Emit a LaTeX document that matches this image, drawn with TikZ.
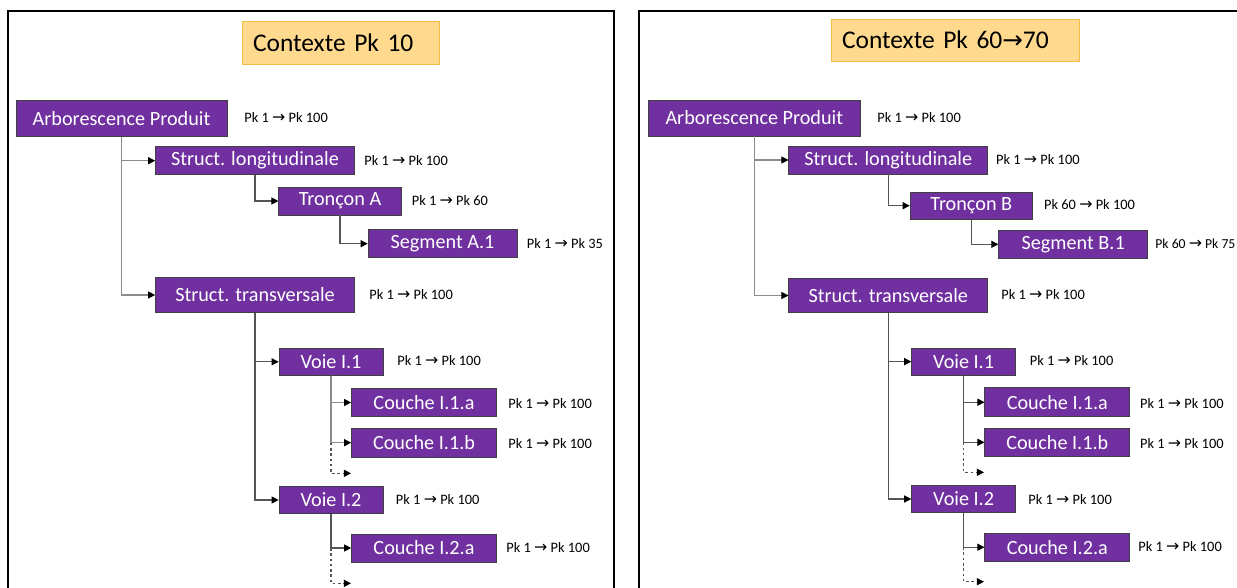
\documentclass[tikz,border=0pt]{standalone}
\usepackage{fontspec}
\setmainfont{Carlito}
\newfontfamily\arrowfont{DejaVu Sans}
\usetikzlibrary{arrows.meta}

\definecolor{prodpurple}{HTML}{7030A0}
\definecolor{boxedge}{HTML}{404040}
\definecolor{titlefill}{HTML}{FFD98E}
\definecolor{titleedge}{HTML}{F5BC45}
\definecolor{linkgray}{HTML}{555555}
\definecolor{lightgray}{HTML}{8C8C8C}

\newcommand{\pkto}{{\arrowfont\fontsize{9}{10}\selectfont →}}

\begin{document}
\begin{tikzpicture}[
  x=0.02cm, y=-0.02cm,
  % Context title
  ctxtitle/.style={rectangle, draw=titleedge, fill=titlefill, inner xsep=0.22cm, align=left, minimum height=0.85cm, font=\fontsize{14.5}{16}\selectfont},
  % Tree elements
  elem/.style={rectangle, draw=boxedge, fill=prodpurple, text=white, inner sep=0pt, font=\fontsize{11.5}{13}\selectfont},
  % Pk range labels
  pkrange/.style={anchor=west, inner sep=0pt, font=\fontsize{8.2}{10}\selectfont},
  % Connectors
  link/.style={draw=linkgray, line width=0.6pt, -{Triangle[length=4pt, width=4pt, color=black]}},
  lightlink/.style={link, draw=lightgray},
  morelink/.style={link, dash pattern=on 1.5pt off 1.5pt},
  panelframe/.style={draw=black, line width=1.2pt}
]

\useasboundingbox (0,0) rectangle (1237,588);

% === FRAMES ===
\draw[panelframe] (8,10.7) rectangle (614,620);
\draw[panelframe] (639,10.7) rectangle (1270,620);

% === LEFT: Contexte Pk 10 ===
\node[ctxtitle, text width=3.5cm] (ctxL) at (340.5,42.8) {Contexte Pk 10};

\node[elem, minimum width=4.22cm, minimum height=0.71cm] (arbL) at (121.5,118.5) {Arborescence Produit};
\node[pkrange] (arbLr) at (244,118) {Pk 1 \pkto{} Pk 100};

\node[elem, minimum width=3.98cm, minimum height=0.56cm] (slL) at (255,160.7) {Struct. longitudinale};
\node[pkrange] (slLr) at (364,160.5) {Pk 1 \pkto{} Pk 100};

\node[elem, minimum width=2.45cm, minimum height=0.56cm] (trA) at (340,201) {Tronçon A};
\node[pkrange] (trAr) at (411.5,201) {Pk 1 \pkto{} Pk 60};

\node[elem, minimum width=2.98cm, minimum height=0.56cm] (segA) at (442.5,243.7) {Segment A.1};
\node[pkrange] (segAr) at (526.5,244) {Pk 1 \pkto{} Pk 35};

\node[elem, minimum width=3.98cm, minimum height=0.7cm] (stL) at (255,295) {Struct. transversale};
\node[pkrange] (stLr) at (369,295) {Pk 1 \pkto{} Pk 100};

\node[elem, minimum width=2.08cm, minimum height=0.54cm] (v11L) at (331,361.8) {Voie I.1};
\node[pkrange] (v11Lr) at (397,361) {Pk 1 \pkto{} Pk 100};

\node[elem, minimum width=2.9cm, minimum height=0.56cm] (c11aL) at (424,402.5) {Couche I.1.a};
\node[pkrange] (c11aLr) at (508,404) {Pk 1 \pkto{} Pk 100};

\node[elem, minimum width=2.9cm, minimum height=0.57cm] (c11bL) at (424,442.7) {Couche I.1.b};
\node[pkrange] (c11bLr) at (508,444) {Pk 1 \pkto{} Pk 100};

\node[elem, minimum width=2.08cm, minimum height=0.54cm] (v12L) at (331,500) {Voie I.2};
\node[pkrange] (v12Lr) at (395.6,500) {Pk 1 \pkto{} Pk 100};

\node[elem, minimum width=2.9cm, minimum height=0.56cm] (c12aL) at (424,548) {Couche I.2.a};
\node[pkrange] (c12aLr) at (506,548) {Pk 1 \pkto{} Pk 100};

\coordinate (more11L) at (351,473.3);
\coordinate (more12L) at (351,583.3);

% Edges
\draw[lightlink] (arbL.south) |- (slL.west);
\draw[lightlink] (arbL.south) |- (stL.west);
\draw[link] (slL.south) |- (trA.west);
\draw[link] (trA.south) |- (segA.west);
\draw[link] (stL.south) |- (v11L.west);
\draw[link] (stL.south) |- (v12L.west);
\draw[lightlink] (v11L.south) |- (c11aL.west);
\draw[lightlink] (v11L.south) |- (c11bL.west);
\draw[morelink] (v11L.south |- c11bL.west) |- (more11L);
\draw[link] (v12L.south) |- (c12aL.west);
\draw[morelink] (v12L.south |- c12aL.west) |- (more12L);

% === RIGHT: Contexte Pk 60->70 ===
\node[ctxtitle, text width=4.52cm] (ctxR) at (955,40.2) {Contexte Pk 60{\arrowfont\fontsize{14}{15}\selectfont →}70};

\node[elem, minimum width=4.23cm, minimum height=0.72cm] (arbR) at (754.3,118) {Arborescence Produit};
\node[pkrange] (arbRr) at (877,118) {Pk 1 \pkto{} Pk 100};

\node[elem, minimum width=3.98cm, minimum height=0.56cm] (slR) at (888.3,160) {Struct. longitudinale};
\node[pkrange] (slRr) at (995.8,160) {Pk 1 \pkto{} Pk 100};

\node[elem, minimum width=2.45cm, minimum height=0.55cm] (trB) at (971.3,205.7) {Tronçon B};
\node[pkrange] (trBr) at (1043.8,205) {Pk 60 \pkto{} Pk 100};

\node[elem, minimum width=2.98cm, minimum height=0.56cm] (segB) at (1073.2,244.3) {Segment B.1};
\node[pkrange, font=\fontsize{7.8}{10}\selectfont] (segBr) at (1155,243.5) {Pk 60 \pkto{} Pk 75};

\node[elem, minimum width=3.98cm, minimum height=0.69cm] (stR) at (888.3,295.5) {Struct. transversale};
\node[pkrange] (stRr) at (1001,295) {Pk 1 \pkto{} Pk 100};

\node[elem, minimum width=2.08cm, minimum height=0.55cm] (v11R) at (963.6,361.6) {Voie I.1};
\node[pkrange] (v11Rr) at (1029.5,361) {Pk 1 \pkto{} Pk 100};

\node[elem, minimum width=2.9cm, minimum height=0.58cm] (c11aR) at (1057.3,402.2) {Couche I.1.a};
\node[pkrange] (c11aRr) at (1139.8,404) {Pk 1 \pkto{} Pk 100};

\node[elem, minimum width=2.9cm, minimum height=0.56cm] (c11bR) at (1057.3,442.3) {Couche I.1.b};
\node[pkrange] (c11bRr) at (1139.8,443.3) {Pk 1 \pkto{} Pk 100};

\node[elem, minimum width=2.08cm, minimum height=0.55cm] (v12R) at (963.6,499) {Voie I.2};
\node[pkrange] (v12Rr) at (1028,499.3) {Pk 1 \pkto{} Pk 100};

\node[elem, minimum width=2.9cm, minimum height=0.57cm] (c12aR) at (1057.3,547.2) {Couche I.2.a};
\node[pkrange] (c12aRr) at (1138,547) {Pk 1 \pkto{} Pk 100};

\coordinate (more11R) at (984,472.3);
\coordinate (more12R) at (984,581.7);

% Edges
\draw[lightlink] (arbR.south) |- (slR.west);
\draw[lightlink] (arbR.south) |- (stR.west);
\draw[link] (slR.south) |- (trB.west);
\draw[link] (trB.south) |- (segB.west);
\draw[link] (stR.south) |- (v11R.west);
\draw[link] (stR.south) |- (v12R.west);
\draw[link] (v11R.south) |- (c11aR.west);
\draw[link] (v11R.south) |- (c11bR.west);
\draw[morelink] (v11R.south |- c11bR.west) |- (more11R);
\draw[link] (v12R.south) |- (c12aR.west);
\draw[morelink] (v12R.south |- c12aR.west) |- (more12R);

\end{tikzpicture}
\end{document}
